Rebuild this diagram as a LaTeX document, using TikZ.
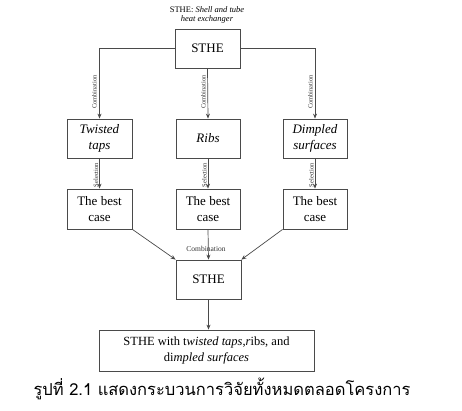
\documentclass[tikz,border=0pt]{standalone}
\usepackage{fontspec}
\setmainfont{Liberation Serif}
\newfontfamily\thaifont[Script=Thai]{Loma}
\usetikzlibrary{arrows.meta}
\definecolor{linegray}{HTML}{4A4A4A}
\tikzset{
  box/.style={draw=linegray, line width=0.8pt, align=center, font=\fontsize{13}{15.5}\selectfont, inner sep=0pt},
  arr/.style={draw=linegray, line width=0.7pt, -{Stealth[length=5pt,width=4pt]}},
  lab/.style={font=\fontsize{6.5}{7}\selectfont, inner sep=1pt, text=black!80},
}
\begin{document}
\begin{tikzpicture}[x=1pt,y=-1pt]
\useasboundingbox[fill=white] (0,0) rectangle (462,411);
\node[font=\fontsize{8.5}{9.5}\selectfont, align=center] (title) at (207,15) {STHE: \textit{Shell and tube}\\\textit{heat exchanger}};
\node[box, minimum width=65pt, minimum height=39pt] (top) at (207.5,48.5) {STHE};
\node[box, minimum width=65pt, minimum height=39pt] (tw) at (99.5,138.5) {\textit{Twisted}\\\textit{taps}};
\node[box, minimum width=64pt, minimum height=39pt] (rb) at (208,138.5) {\textit{Ribs}};
\node[box, minimum width=64pt, minimum height=39pt] (dp) at (315,138.5) {\textit{Dimpled}\\\textit{surfaces}};
\node[box, minimum width=65pt, minimum height=40pt] (b1) at (99.5,209) {The best\\case};
\node[box, minimum width=64pt, minimum height=40pt] (b2) at (208,209) {The best\\case};
\node[box, minimum width=64pt, minimum height=40pt] (b3) at (315,209) {The best\\case};
\node[box, minimum width=65pt, minimum height=39pt] (bot) at (208.5,279.5) {STHE};
\node[box, minimum width=215pt, minimum height=41pt, font=\fontsize{12.5}{15.5}\selectfont] (fin) at (206.5,350.5) {STHE with t\textit{wisted taps},\textit{r}ibs, and\\di\textit{mpled surfaces}};
\node[font=\thaifont\fontsize{16.5}{18}\selectfont] (cap) at (222,389) {รูปที่ 2.1 แสดงกระบวนการวิจัยทั้งหมดตลอดโครงการ};
% connectors
\draw[arr] (top.west) -| (tw.north);
\draw[arr] (top.south) -- (rb.north);
\draw[arr] (top.east) -| (dp.north);
\node[lab, rotate=90, anchor=south] (c1) at (98,92) {Combination};
\node[lab, rotate=90, anchor=south] (c2) at (207,92) {Combination};
\node[lab, rotate=90, anchor=south] (c3) at (314,92) {Combination};
\draw[arr] (tw.south) -- node[lab, rotate=90, anchor=south, pos=0.55] (s1) {Selection} (b1.north);
\draw[arr] (rb.south) -- node[lab, rotate=90, anchor=south, pos=0.55] (s2) {Selection} (b2.north);
\draw[arr] (dp.south) -- node[lab, rotate=90, anchor=south, pos=0.55] (s3) {Selection} (b3.north);
\draw[arr] (b1.south east) -- (bot.north west);
\draw[arr] (b2.south) -- (bot.north);
\draw[arr] (b3.south west) -- (bot.north east);
\node[lab, font=\fontsize{7.5}{8}\selectfont] (c4) at (206,249) {Combination};
\draw[arr] (bot.south) -- (bot.south |- fin.north);
\end{tikzpicture}
\end{document}
